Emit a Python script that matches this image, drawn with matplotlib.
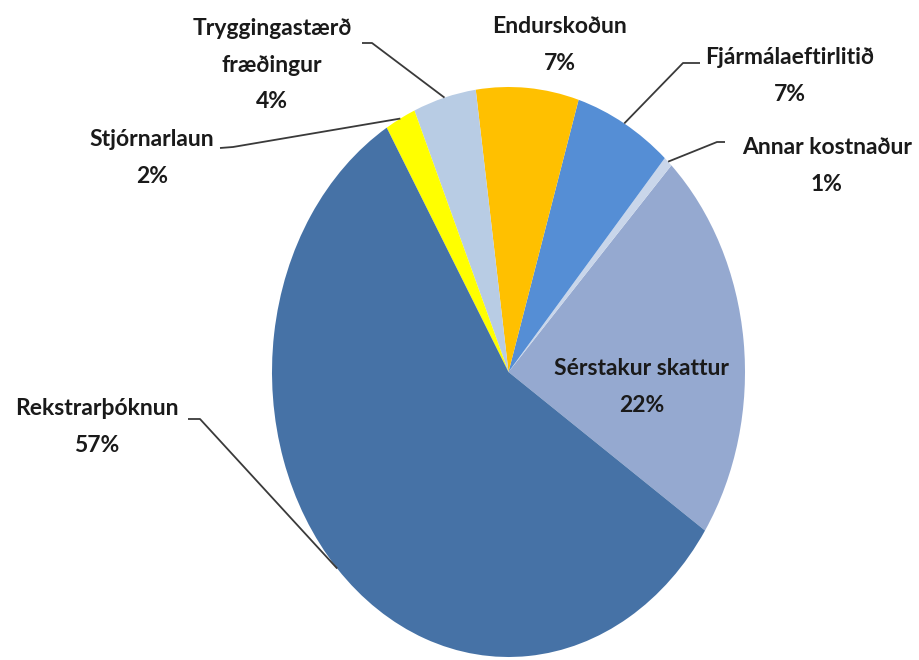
import numpy as np
import matplotlib
matplotlib.use('Agg')
import matplotlib.pyplot as plt

# flokkar kostnadar (rangsaelis fra Serstakur skattur)
categories = ['Sérstakur skattur', 'Annar kostnaður', 'Fjármálaeftirlitið',
              'Endurskoðun', 'Tryggingastærð\nfræðingur', 'Stjórnarlaun',
              'Rekstrarþóknun']
shares = [22.3, 0.6, 6.7, 7.0, 4.3, 2.1, 57.0]
colors = ['#95A9D0', '#C9D6EA', '#558ED5', '#FFC000', '#B8CCE4', '#FFFF00', '#4672A6']

# stadsetning merkja i pixlum (x, y ofan fra) og olnbogi leidaralinu
label_pos = [(642, 387), (827, 166), (790, 76), (560, 45), (272, 65), (152, 158), (97, 427)]
leader = [None, [(725, 142), (717, 142)], [(700, 63), (683, 63)], None,
          [(362, 43), (372, 43)], [(220, 148), (233, 147)], [(188, 419), (200, 419)]]

plt.rcParams['font.family'] = ['Lato', 'DejaVu Sans']

W, H = 919, 660
fig = plt.figure(figsize=(W / 100, H / 100), dpi=100)

# kakan er teygd lodrett eins og a myndinni
cx, cy, rx, ry = 508.5, 372, 236.5, 285
ax = fig.add_axes([(cx - rx) / W, (H - cy - ry) / H, 2 * rx / W, 2 * ry / H])
wedges, _ = ax.pie(shares, colors=colors, startangle=-33.8, counterclock=True,
                   wedgeprops=dict(linewidth=0))
ax.set_aspect('auto')
ax.set_xlim(-1, 1)
ax.set_ylim(-1, 1)
ax.axis('off')

ov = fig.add_axes([0, 0, 1, 1])
ov.set_xlim(0, W)
ov.set_ylim(H, 0)
ov.axis('off')
ov.patch.set_alpha(0)

for i, w in enumerate(wedges):
    txt = f'{categories[i]}\n{round(shares[i])}%'
    x, y = label_pos[i]
    ov.text(x, y, txt, ha='center', va='center', fontsize=16.5, fontweight='bold',
            color='#1a1a1a', linespacing=1.9)
    if leader[i] is not None:
        a = np.deg2rad((w.theta1 + w.theta2) / 2)
        p = ax.transData.transform((np.cos(a), np.sin(a)))
        p = ov.transData.inverted().transform(p)
        xs = [leader[i][0][0], leader[i][1][0], p[0]]
        ys = [leader[i][0][1], leader[i][1][1], p[1]]
        ov.plot(xs, ys, color='#3a3a3a', lw=1.3, solid_capstyle='butt')

fig.savefig('out.png', dpi=100)
